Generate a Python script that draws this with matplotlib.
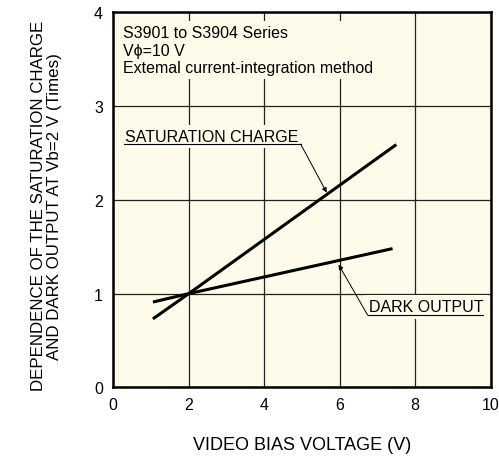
import matplotlib.pyplot as plt

plt.rcParams['font.family'] = ['Liberation Sans', 'DejaVu Sans']

sat_x = [1.05, 2.0, 7.5]
sat_y = [0.73, 1.0, 2.59]
dark_x = [1.05, 2.0, 7.4]
dark_y = [0.91, 1.0, 1.48]

xticks = [0, 2, 4, 6, 8, 10]
yticks = [0, 1, 2, 3, 4]

bg = '#fefbea'

fig = plt.figure(figsize=(4.99, 4.64), dpi=100)
ax = fig.add_axes([0.227, 0.163, 0.7563, 0.8082])
ax.set_facecolor(bg)

ax.set_xlim(0, 10)
ax.set_ylim(0, 4)
ax.set_xticks(xticks)
ax.set_yticks(yticks)
ax.tick_params(length=0, labelsize=11.5)
ax.tick_params(axis='x', pad=7)
ax.tick_params(axis='y', pad=7.5)
ax.grid(True, color='#222222', linewidth=0.9)
ax.set_axisbelow(True)
for s in ax.spines.values():
    s.set_linewidth(1.8)
    s.set_color('black')

ax.plot(sat_x, sat_y, color='black', linewidth=2.2, solid_capstyle='butt')
ax.plot(dark_x, dark_y, color='black', linewidth=2.2, solid_capstyle='butt')

box = dict(facecolor=bg, edgecolor='none', pad=3)

# header text
ax.text(0.026, 0.965, 'S3901 to S3904 Series\nV\u03d5=10 V\nExtemal current-integration method',
        transform=ax.transAxes, ha='left', va='top', fontsize=11.5, linespacing=1.2,
        bbox=dict(facecolor=bg, edgecolor='none', pad=3))

# saturation charge label
ax.text(0.31, 2.63, 'SATURATION CHARGE', ha='left', va='baseline', fontsize=11.5, bbox=box)
ax.plot([0.29, 4.965], [2.595, 2.595], color='black', linewidth=0.8, zorder=5)
ax.annotate('', xy=(5.655, 2.078), xytext=(4.965, 2.595),
            arrowprops=dict(arrowstyle='-|>', color='black', lw=0.7, mutation_scale=7,
                            shrinkA=0, shrinkB=0), zorder=5)

# dark output label
ax.text(6.78, 0.81, 'DARK OUTPUT', ha='left', va='baseline', fontsize=11.5, bbox=box)
ax.plot([6.74, 9.8], [0.771, 0.771], color='black', linewidth=0.8, zorder=5)
ax.annotate('', xy=(5.97, 1.31), xytext=(6.74, 0.771),
            arrowprops=dict(arrowstyle='-|>', color='black', lw=0.7, mutation_scale=7,
                            shrinkA=0, shrinkB=0), zorder=5)

ax.set_xlabel('VIDEO BIAS VOLTAGE (V)', fontsize=13, labelpad=17)
ax.set_ylabel('DEPENDENCE OF THE SATURATION CHARGE\nAND DARK OUTPUT AT Vb=2 V (Times)',
              fontsize=12.2, linespacing=1.05)
ax.yaxis.set_label_coords(-0.136, 0.486)

plt.savefig('out.png', dpi=100, facecolor='white')
